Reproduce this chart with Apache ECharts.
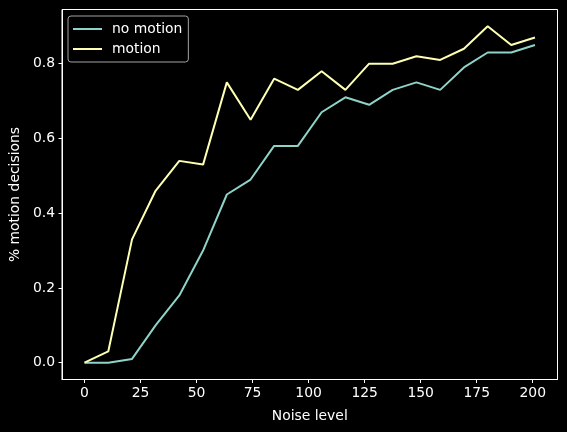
<!DOCTYPE html>
<html>
<head>
<meta charset="utf-8">
<script src="https://cdn.jsdelivr.net/npm/echarts@6/dist/echarts.min.js"></script>
<style>
  html, body { margin: 0; padding: 0; background: #000; }
  #chart { width: 567px; height: 432px; }
</style>
</head>
<body>
<div id="chart"></div>
<script>
// noise levels (x)
const noiseLevels = [0, 10.6, 21.2, 31.7, 42.3, 52.9, 63.5, 74.1, 84.6, 95.2, 105.8, 116.4, 127, 137.5, 148.1, 158.7, 169.3, 179.9, 190.4, 201]
// % motion decisions
const noMotion = [0, 0, 0.01, 0.10, 0.18, 0.30, 0.45, 0.49, 0.58, 0.58, 0.67, 0.71, 0.69, 0.73, 0.75, 0.73, 0.79, 0.83, 0.83, 0.85]
const motion = [0, 0.03, 0.33, 0.46, 0.54, 0.53, 0.75, 0.65, 0.76, 0.73, 0.78, 0.73, 0.80, 0.80, 0.82, 0.81, 0.84, 0.90, 0.85, 0.87]
const xTicks = [0, 25, 50, 75, 100, 125, 150, 175, 200]
const yTicks = [0, 0.2, 0.4, 0.6, 0.8]

const font = 'DejaVu Sans'
const pair = (xs, ys) => xs.map((x, i) => [x, ys[i]])

const chart = echarts.init(document.getElementById('chart'))

const options = {
  backgroundColor: '#000',
  animation: false,
  textStyle: { fontFamily: font },
  grid: {
    left: 60.5, right: 9.5, top: 9.5, bottom: 52.5,
    show: true, borderColor: '#fff', borderWidth: 1, backgroundColor: '#000',
  },
  legend: {
    left: 68, top: 16,
    orient: 'vertical',
    icon: 'rect',
    itemWidth: 29, itemHeight: 2, itemGap: 6,
    padding: [6, 6, 6, 5],
    borderColor: '#a3a3a3', borderWidth: 1, borderRadius: 3,
    backgroundColor: '#000',
    textStyle: { color: '#fff', fontSize: 13.9, lineHeight: 14, fontFamily: font, padding: [0, 0, 0, 5] },
    data: ['no motion', 'motion'],
  },
  xAxis: {
    type: 'value',
    min: -10.05, max: 211.05,
    name: 'Noise level', nameLocation: 'middle', nameGap: 30,
    nameTextStyle: { color: '#fff', fontSize: 13.9, fontFamily: font },
    axisLine: { show: true, onZero: false, lineStyle: { color: '#fff', width: 1 } },
    splitLine: { show: false },
    axisTick: { show: true, inside: false, length: 3.5, lineStyle: { color: '#fff' }, customValues: xTicks },
    axisLabel: { color: '#fff', fontSize: 13.9, fontFamily: font, margin: 7, customValues: xTicks },
  },
  yAxis: {
    type: 'value',
    min: -0.045, max: 0.945,
    name: '% motion decisions', nameLocation: 'middle', nameGap: 37,
    nameTextStyle: { color: '#fff', fontSize: 13.9, fontFamily: font },
    axisLine: { show: true, onZero: false, lineStyle: { color: '#fff', width: 1 } },
    splitLine: { show: false },
    axisTick: { show: true, inside: false, length: 3.5, lineStyle: { color: '#fff' }, customValues: yTicks },
    axisLabel: {
      color: '#fff', fontSize: 13.9, fontFamily: font, margin: 7, customValues: yTicks,
      formatter: v => v.toFixed(1),
    },
  },
  series: [
    {
      name: 'no motion', type: 'line', symbol: 'none',
      data: pair(noiseLevels, noMotion),
      lineStyle: { width: 2, color: '#8dd3c7' },
      itemStyle: { color: '#8dd3c7' },
    },
    {
      name: 'motion', type: 'line', symbol: 'none',
      data: pair(noiseLevels, motion),
      lineStyle: { width: 2, color: '#feffb3' },
      itemStyle: { color: '#feffb3' },
    },
  ],
}

chart.setOption(options)
</script>
</body>
</html>
